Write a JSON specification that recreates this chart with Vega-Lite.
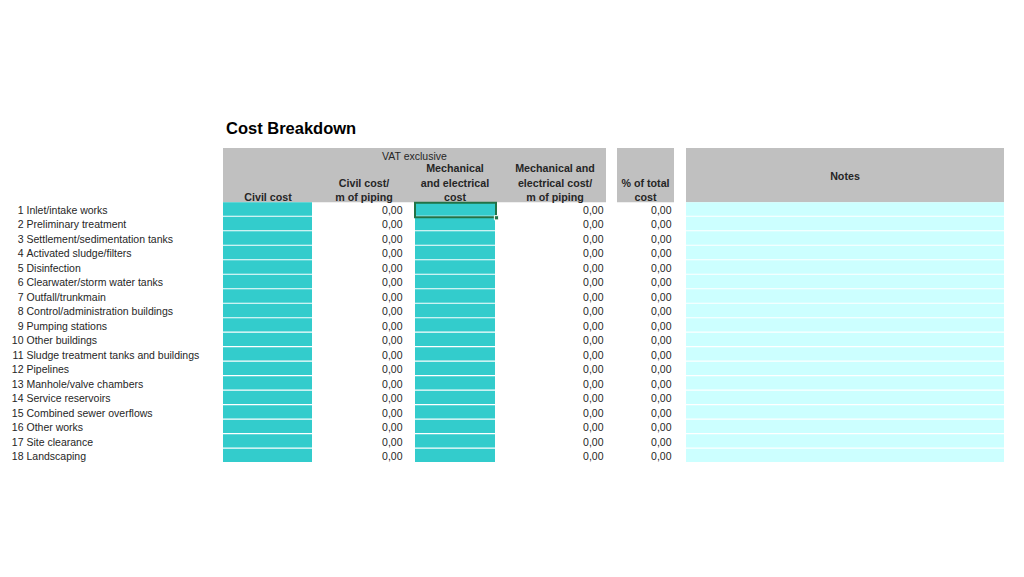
{
  "$schema": "https://vega.github.io/schema/vega-lite/v6.json",
  "width": 1024,
  "height": 577,
  "autosize": {"type": "fit", "contains": "padding"},
  "padding": 0,
  "background": "white",
  "config": {
    "view": {"stroke": null},
    "locale": {"number": {"decimal": ",", "thousands": ".", "grouping": [3], "currency": ["", " €"]}},
    "text": {"font": "Liberation Sans", "fontSize": 10.5, "color": "#262626"}
  },
  "datasets": {
    "columns": [
      {"col": "n", "textRight": 23.5},
      {"col": "name", "left": 26.5},
      {"col": "civil", "left": 223, "right": 312, "mid": 268, "kind": "input"},
      {"col": "civilPerM", "left": 312, "right": 414, "mid": 364, "textRight": 402.5},
      {"col": "mech", "left": 415, "right": 495, "mid": 455, "kind": "input"},
      {"col": "mechPerM", "left": 495, "right": 606, "mid": 555, "textRight": 603.5},
      {"col": "pct", "left": 617, "right": 674, "mid": 645.5, "textRight": 671.5},
      {"col": "notes", "left": 686, "right": 1004, "mid": 845, "kind": "note"},
      {"col": "vat", "left": 223, "right": 606, "mid": 414.5}
    ],
    "items": [
      {"n": 1, "name": "Inlet/intake works", "civil": null, "civilPerM": 0, "mech": null, "mechPerM": 0, "pct": 0, "notes": ""},
      {"n": 2, "name": "Preliminary treatment", "civil": null, "civilPerM": 0, "mech": null, "mechPerM": 0, "pct": 0, "notes": ""},
      {"n": 3, "name": "Settlement/sedimentation tanks", "civil": null, "civilPerM": 0, "mech": null, "mechPerM": 0, "pct": 0, "notes": ""},
      {"n": 4, "name": "Activated sludge/filters", "civil": null, "civilPerM": 0, "mech": null, "mechPerM": 0, "pct": 0, "notes": ""},
      {"n": 5, "name": "Disinfection", "civil": null, "civilPerM": 0, "mech": null, "mechPerM": 0, "pct": 0, "notes": ""},
      {"n": 6, "name": "Clearwater/storm water tanks", "civil": null, "civilPerM": 0, "mech": null, "mechPerM": 0, "pct": 0, "notes": ""},
      {"n": 7, "name": "Outfall/trunkmain", "civil": null, "civilPerM": 0, "mech": null, "mechPerM": 0, "pct": 0, "notes": ""},
      {"n": 8, "name": "Control/administration buildings", "civil": null, "civilPerM": 0, "mech": null, "mechPerM": 0, "pct": 0, "notes": ""},
      {"n": 9, "name": "Pumping stations", "civil": null, "civilPerM": 0, "mech": null, "mechPerM": 0, "pct": 0, "notes": ""},
      {"n": 10, "name": "Other buildings", "civil": null, "civilPerM": 0, "mech": null, "mechPerM": 0, "pct": 0, "notes": ""},
      {"n": 11, "name": "Sludge treatment tanks and buildings", "civil": null, "civilPerM": 0, "mech": null, "mechPerM": 0, "pct": 0, "notes": ""},
      {"n": 12, "name": "Pipelines", "civil": null, "civilPerM": 0, "mech": null, "mechPerM": 0, "pct": 0, "notes": ""},
      {"n": 13, "name": "Manhole/valve chambers", "civil": null, "civilPerM": 0, "mech": null, "mechPerM": 0, "pct": 0, "notes": ""},
      {"n": 14, "name": "Service reservoirs", "civil": null, "civilPerM": 0, "mech": null, "mechPerM": 0, "pct": 0, "notes": ""},
      {"n": 15, "name": "Combined sewer overflows", "civil": null, "civilPerM": 0, "mech": null, "mechPerM": 0, "pct": 0, "notes": ""},
      {"n": 16, "name": "Other works", "civil": null, "civilPerM": 0, "mech": null, "mechPerM": 0, "pct": 0, "notes": ""},
      {"n": 17, "name": "Site clearance", "civil": null, "civilPerM": 0, "mech": null, "mechPerM": 0, "pct": 0, "notes": ""},
      {"n": 18, "name": "Landscaping", "civil": null, "civilPerM": 0, "mech": null, "mechPerM": 0, "pct": 0, "notes": ""}
    ],
    "headers": [
      {"col": "civil", "line": 0, "text": "Civil cost"},
      {"col": "civilPerM", "line": -1, "text": "Civil cost/"},
      {"col": "civilPerM", "line": 0, "text": "m of piping"},
      {"col": "mech", "line": -2, "text": "Mechanical"},
      {"col": "mech", "line": -1, "text": "and electrical"},
      {"col": "mech", "line": 0, "text": "cost"},
      {"col": "mechPerM", "line": -2, "text": "Mechanical and"},
      {"col": "mechPerM", "line": -1, "text": "electrical cost/"},
      {"col": "mechPerM", "line": 0, "text": "m of piping"},
      {"col": "pct", "line": -1, "text": "% of total"},
      {"col": "pct", "line": 0, "text": "cost"},
      {"col": "notes", "line": -1.45, "text": "Notes"}
    ],
    "blocks": [
      {"col": "vat"},
      {"col": "pct"},
      {"col": "notes"}
    ]
  },
  "layer": [
    {
      "data": {"name": "blocks"},
      "transform": [
        {"lookup": "col", "from": {"data": {"name": "columns"}, "key": "col", "fields": ["left", "right"]}}
      ],
      "mark": {"type": "rect", "fill": "#C0C0C0", "yOffset": -2.8, "y2Offset": 8},
      "encoding": {
        "x": {"field": "left", "type": "quantitative", "scale": {"domain": [0, 1024], "nice": false, "zero": false}, "axis": null},
        "x2": {"field": "right"},
        "y": {"datum": -3, "type": "quantitative", "scale": {"domain": [-13.41, 26.411], "reverse": true, "nice": false, "zero": false}, "axis": null},
        "y2": {"datum": 0}
      }
    },
    {
      "data": {"name": "items"},
      "transform": [
        {"fold": ["civil", "mech", "notes"], "as": ["col", "val"]},
        {"lookup": "col", "from": {"data": {"name": "columns"}, "key": "col", "fields": ["left", "right", "kind"]}}
      ],
      "mark": {"type": "rect", "yOffset": -6.5, "y2Offset": 6.9},
      "encoding": {
        "x": {"field": "left", "type": "quantitative", "scale": {"domain": [0, 1024], "nice": false, "zero": false}, "axis": null},
        "x2": {"field": "right"},
        "y": {"field": "n", "type": "quantitative", "scale": {"domain": [-13.41, 26.411], "reverse": true, "nice": false, "zero": false}, "axis": null},
        "y2": {"field": "n"},
        "color": {"field": "kind", "type": "nominal", "scale": {"domain": ["input", "note"], "range": ["#33CCCC", "#CCFFFF"]}, "legend": null}
      }
    },
    {
      "data": {"name": "items"},
      "transform": [
        {"fold": ["civilPerM", "mechPerM", "pct"], "as": ["col", "value"]},
        {"lookup": "col", "from": {"data": {"name": "columns"}, "key": "col", "fields": ["textRight"]}}
      ],
      "mark": {"type": "text", "align": "right", "baseline": "middle", "dy": 2},
      "encoding": {
        "x": {"field": "textRight", "type": "quantitative", "scale": {"domain": [0, 1024], "nice": false, "zero": false}, "axis": null},
        "y": {"field": "n", "type": "quantitative", "scale": {"domain": [-13.41, 26.411], "reverse": true, "nice": false, "zero": false}, "axis": null},
        "text": {"field": "value", "type": "quantitative", "format": ".2f"}
      }
    },
    {
      "data": {"name": "items"},
      "transform": [
        {"fold": ["n"], "as": ["col", "num"]},
        {"lookup": "col", "from": {"data": {"name": "columns"}, "key": "col", "fields": ["textRight"]}}
      ],
      "mark": {"type": "text", "align": "right", "baseline": "middle", "dy": 2},
      "encoding": {
        "x": {"field": "textRight", "type": "quantitative", "scale": {"domain": [0, 1024], "nice": false, "zero": false}, "axis": null},
        "y": {"field": "n", "type": "quantitative", "scale": {"domain": [-13.41, 26.411], "reverse": true, "nice": false, "zero": false}, "axis": null},
        "text": {"field": "num", "type": "nominal"}
      }
    },
    {
      "data": {"name": "items"},
      "transform": [
        {"fold": ["name"], "as": ["col", "label"]},
        {"lookup": "col", "from": {"data": {"name": "columns"}, "key": "col", "fields": ["left"]}}
      ],
      "mark": {"type": "text", "align": "left", "baseline": "middle", "dy": 2},
      "encoding": {
        "x": {"field": "left", "type": "quantitative", "scale": {"domain": [0, 1024], "nice": false, "zero": false}, "axis": null},
        "y": {"field": "n", "type": "quantitative", "scale": {"domain": [-13.41, 26.411], "reverse": true, "nice": false, "zero": false}, "axis": null},
        "text": {"field": "label", "type": "nominal"}
      }
    },
    {
      "data": {"name": "headers"},
      "transform": [
        {"lookup": "col", "from": {"data": {"name": "columns"}, "key": "col", "fields": ["mid"]}}
      ],
      "mark": {"type": "text", "align": "center", "baseline": "middle", "dy": 4, "fontWeight": "bold", "fontSize": 10.7},
      "encoding": {
        "x": {"field": "mid", "type": "quantitative", "scale": {"domain": [0, 1024], "nice": false, "zero": false}, "axis": null},
        "y": {"field": "line", "type": "quantitative", "scale": {"domain": [-13.41, 26.411], "reverse": true, "nice": false, "zero": false}, "axis": null},
        "text": {"field": "text", "type": "nominal"}
      }
    },
    {
      "data": {"values": [{"col": "vat", "line": -3, "text": "VAT exclusive"}]},
      "transform": [
        {"lookup": "col", "from": {"data": {"name": "columns"}, "key": "col", "fields": ["mid"]}}
      ],
      "mark": {"type": "text", "align": "center", "baseline": "middle", "dy": 6},
      "encoding": {
        "x": {"field": "mid", "type": "quantitative", "scale": {"domain": [0, 1024], "nice": false, "zero": false}, "axis": null},
        "y": {"field": "line", "type": "quantitative", "scale": {"domain": [-13.41, 26.411], "reverse": true, "nice": false, "zero": false}, "axis": null},
        "text": {"field": "text", "type": "nominal"}
      }
    },
    {
      "data": {"values": [{"col": "civil", "line": -4.14, "text": "Cost Breakdown"}]},
      "transform": [
        {"lookup": "col", "from": {"data": {"name": "columns"}, "key": "col", "fields": ["left"]}}
      ],
      "mark": {"type": "text", "align": "left", "baseline": "alphabetic", "dx": 3, "fontSize": 16.5, "fontWeight": "bold", "color": "#000000"},
      "encoding": {
        "x": {"field": "left", "type": "quantitative", "scale": {"domain": [0, 1024], "nice": false, "zero": false}, "axis": null},
        "y": {"field": "line", "type": "quantitative", "scale": {"domain": [-13.41, 26.411], "reverse": true, "nice": false, "zero": false}, "axis": null},
        "text": {"field": "text", "type": "nominal"}
      }
    },
    {
      "data": {"values": [{"col": "mech", "row": 1}]},
      "transform": [
        {"lookup": "col", "from": {"data": {"name": "columns"}, "key": "col", "fields": ["left", "right"]}}
      ],
      "mark": {"type": "rect", "fill": "transparent", "stroke": "#217346", "strokeWidth": 2, "xOffset": 0, "x2Offset": 1, "yOffset": -6.1, "y2Offset": 8.5},
      "encoding": {
        "x": {"field": "left", "type": "quantitative", "scale": {"domain": [0, 1024], "nice": false, "zero": false}, "axis": null},
        "x2": {"field": "right"},
        "y": {"field": "row", "type": "quantitative", "scale": {"domain": [-13.41, 26.411], "reverse": true, "nice": false, "zero": false}, "axis": null},
        "y2": {"field": "row"}
      }
    },
    {
      "data": {"values": [{"col": "mech", "row": 1}]},
      "transform": [
        {"lookup": "col", "from": {"data": {"name": "columns"}, "key": "col", "fields": ["right"]}}
      ],
      "mark": {"type": "square", "filled": true, "color": "#217346", "size": 18, "stroke": "white", "strokeWidth": 1, "opacity": 1, "xOffset": 1.5, "yOffset": 9},
      "encoding": {
        "x": {"field": "right", "type": "quantitative", "scale": {"domain": [0, 1024], "nice": false, "zero": false}, "axis": null},
        "y": {"field": "row", "type": "quantitative", "scale": {"domain": [-13.41, 26.411], "reverse": true, "nice": false, "zero": false}, "axis": null}
      }
    }
  ]
}
